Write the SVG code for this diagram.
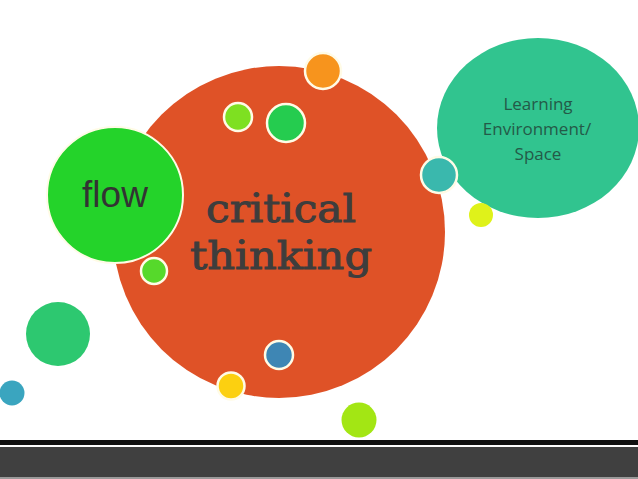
<svg xmlns="http://www.w3.org/2000/svg" width="638" height="479" viewBox="0 0 638 479">
<style>
.dot{stroke:#fffbe6;stroke-width:2.5}
.t1{font-family:"Liberation Sans",Arial,sans-serif;font-size:37px;fill:#333333;text-anchor:middle}
.t2{font-family:"DejaVu Serif","Liberation Serif",serif;font-size:39px;fill:#3d3d3d;stroke:#3d3d3d;stroke-width:1;text-anchor:middle}
.t3{font-family:"Open Sans","Liberation Sans",sans-serif;font-size:17px;fill:#245a48;text-anchor:middle}
</style>
<rect width="638" height="479" fill="#ffffff"/>
<g id="bar">
<rect x="0" y="440" width="638" height="5" fill="#111111"/>
<rect x="0" y="447" width="638" height="30" fill="#404040"/>
<rect x="0" y="477" width="638" height="2" fill="#9a9a9a"/>
</g>
<g id="learning">
<ellipse cx="538" cy="128" rx="101" ry="90" fill="#31c48f"/>
<text class="t3" x="538" y="110">Learning</text>
<text class="t3" x="537" y="135">Environment/</text>
<text class="t3" x="538" y="160">Space</text>
</g>
<g id="critical">
<circle cx="279" cy="232" r="166" fill="#df5227"/>
<text class="t2" x="281" y="222" textLength="150" lengthAdjust="spacingAndGlyphs">critical</text>
<text class="t2" x="281" y="269" textLength="182" lengthAdjust="spacingAndGlyphs">thinking</text>
</g>
<g id="flow">
<circle cx="115" cy="195" r="68" fill="#24d32a" stroke="#fffbe6" stroke-width="2"/>
<text class="t1" x="115" y="207">flow</text>
</g>
<g id="dots">
<circle class="dot" cx="323" cy="71" r="18" fill="#f7941d"/>
<circle class="dot" cx="238" cy="117" r="14" fill="#7ee021"/>
<circle class="dot" cx="286" cy="123" r="19" fill="#25cc4f"/>
<circle class="dot" cx="439" cy="175" r="18" fill="#3ab8ad"/>
<circle cx="481" cy="215" r="12" fill="#dff21a"/>
<circle class="dot" cx="154" cy="271" r="13" fill="#56d92b"/>
<circle class="dot" cx="279" cy="355" r="14" fill="#3e86b4"/>
<circle class="dot" cx="231" cy="386" r="13.5" fill="#fcd010"/>
<circle cx="359" cy="420" r="17.5" fill="#a3e614"/>
<circle cx="58" cy="334" r="32" fill="#2dc870"/>
<circle cx="12" cy="393" r="12.5" fill="#3aa5bf"/>
</g>
</svg>
